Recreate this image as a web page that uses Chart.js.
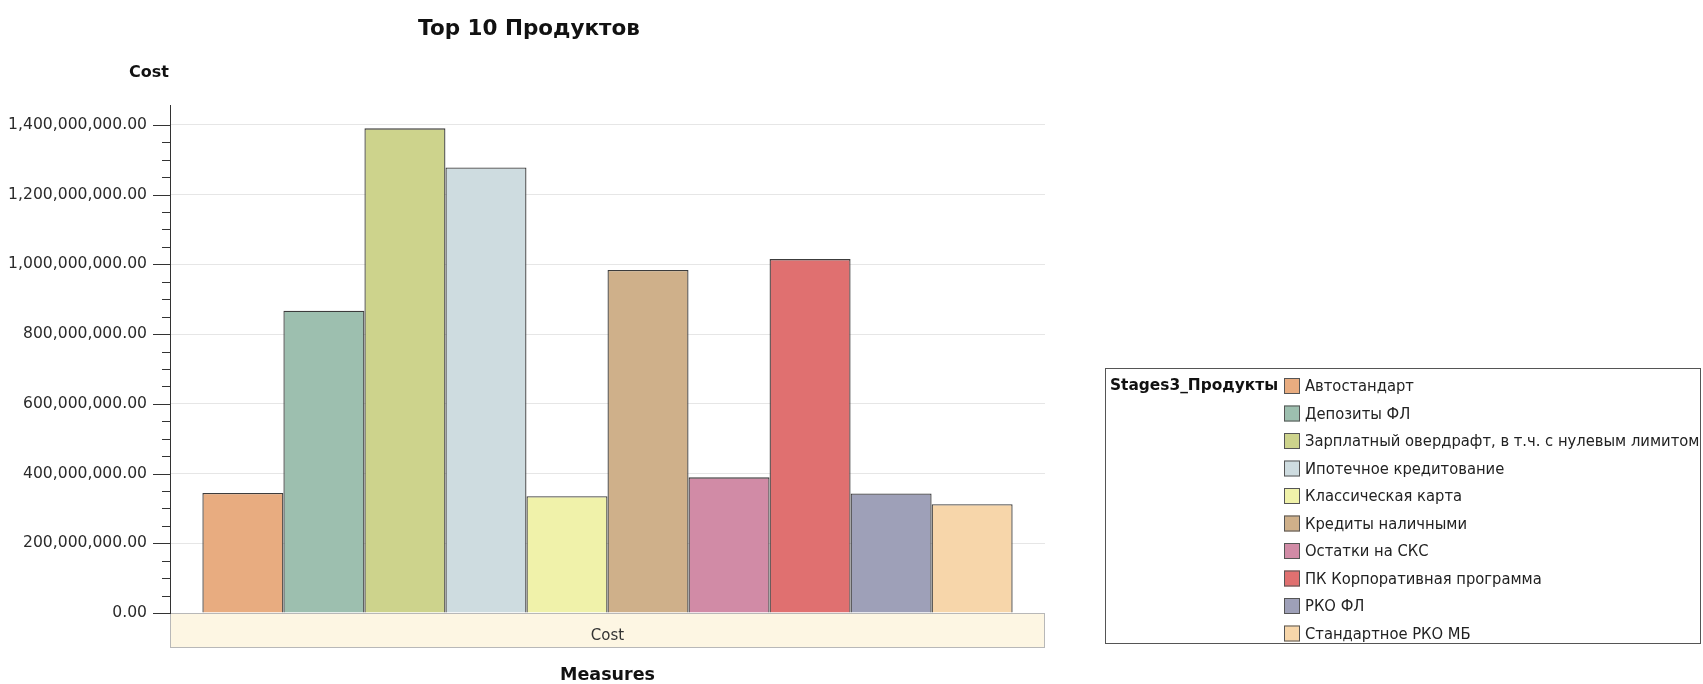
<!DOCTYPE html>
<html>
<head>
<meta charset="utf-8">
<script src="https://cdn.jsdelivr.net/npm/chart.js@4/dist/chart.umd.min.js"></script>
<style>
  html, body { margin: 0; padding: 0; background: #fff; }
  #wrap { width: 1703px; height: 684px; }
</style>
</head>
<body>
<div id="wrap"><canvas id="topProducts"></canvas></div>
<script>
// Data
const measures = ['Cost'];
const products = [
  'Автостандарт',
  'Депозиты ФЛ',
  'Зарплатный овердрафт, в т.ч. с нулевым лимитом',
  'Ипотечное кредитование',
  'Классическая карта',
  'Кредиты наличными',
  'Остатки на СКС',
  'ПК Корпоративная программа',
  'РКО ФЛ',
  'Стандартное РКО МБ'
];
const costValues = [344e6, 867e6, 1390e6, 1278e6, 335e6, 984e6, 389e6, 1015e6, 343e6, 312e6];
const productColors = ['#E8AC80', '#9DBFAF', '#CDD38C', '#CEDCE0', '#F0F2AA',
                       '#CFB08A', '#D18BA6', '#E07070', '#9EA0B8', '#F7D6AA'];
const majorStep = 200e6;
const minorStep = 50e6;
const axisTop = 1400e6;

const boldFont = '"DejaVu Sans", sans-serif';
const textFont = '"DejaVu Sans", sans-serif';
const legendFont = '"Liberation Sans Narrow", "DejaVu Sans Condensed", "Liberation Sans", sans-serif';

function fmt(v) {
  const parts = Math.round(v).toString().replace(/\B(?=(\d{3})+(?!\d))/g, ',');
  return parts + '.00';
}

// beige band under the plot, axis ticks, titles and the side legend
const decorations = {
  id: 'decorations',
  beforeDraw(chart) {
    const { ctx, chartArea } = chart;
    ctx.save();
    ctx.fillStyle = '#FDF6E3';
    ctx.strokeStyle = '#B8B8B8';
    ctx.lineWidth = 1;
    ctx.fillRect(chartArea.left, chartArea.bottom, chartArea.right - chartArea.left, 34);
    ctx.strokeRect(chartArea.left + 0.5, chartArea.bottom + 0.5, chartArea.right - chartArea.left - 1, 34);
    ctx.restore();
  },
  afterDraw(chart) {
    const { ctx, chartArea } = chart;
    const y = chart.scales.y;
    ctx.save();
    // tick marks
    ctx.strokeStyle = '#333';
    ctx.lineWidth = 1;
    y.ticks.forEach(t => {
      const py = Math.round(y.getPixelForValue(t.value)) + 0.5;
      const len = t.value % majorStep === 0 ? 17 : 8;
      ctx.beginPath();
      ctx.moveTo(chartArea.left - len, py);
      ctx.lineTo(chartArea.left, py);
      ctx.stroke();
    });
    // titles
    ctx.fillStyle = '#111';
    ctx.textAlign = 'center';
    ctx.textBaseline = 'middle';
    ctx.font = 'bold 21.5px ' + boldFont;
    ctx.fillText('Top 10 Продуктов', 529, 29);
    ctx.font = 'bold 16px ' + boldFont;
    ctx.fillText('Cost', 149, 73);

    // legend
    const lx = chartArea.right + 60, ly = 368, lw = 1701 - lx, lh = 276;
    ctx.fillStyle = '#fff';
    ctx.fillRect(lx, ly, lw, lh);
    ctx.strokeStyle = '#555';
    ctx.strokeRect(lx + 0.5, ly + 0.5, lw - 1, lh - 1);
    ctx.textAlign = 'left';
    ctx.fillStyle = '#111';
    ctx.font = 'bold 15.4px ' + boldFont;
    ctx.fillText('Stages3_Продукты', lx + 5, ly + 18);
    chart.data.datasets.forEach((ds, i) => {
      const ry = ly + 18 + i * 27.5;
      const sx = lx + 179;
      ctx.fillStyle = ds.backgroundColor;
      ctx.fillRect(sx, ry - 8, 16, 16);
      ctx.strokeStyle = '#555';
      ctx.strokeRect(sx + 0.5, ry - 7.5, 15, 15);
      ctx.fillStyle = '#222';
      ctx.font = '16.4px ' + legendFont;
      ctx.fillText(ds.label, sx + 21, ry + 1);
    });
    ctx.restore();
  }
};

const ctx = document.getElementById('topProducts').getContext('2d');
const chart = new Chart(ctx, {
  type: 'bar',
  data: {
    labels: measures,
    datasets: products.map((name, i) => ({
      label: name,
      data: [costValues[i]],
      backgroundColor: productColors[i],
      borderColor: '#3c3c3c',
      borderWidth: 1.3,
      barPercentage: 1.0,
      categoryPercentage: 0.926
    }))
  },
  options: {
    responsive: true,
    maintainAspectRatio: false,
    animation: false,
    layout: { padding: { top: 105, right: 658, left: 0, bottom: 0 } },
    plugins: {
      legend: { display: false },
      title: { display: false },
      tooltip: { enabled: false }
    },
    scales: {
      x: {
        grid: { display: false },
        border: { display: false },
        ticks: { color: '#333', padding: 6, font: { family: textFont, size: 15 } },
        title: {
          display: true,
          text: 'Measures',
          color: '#111',
          padding: { top: 0, bottom: 0 },
          font: { family: boldFont, size: 17.5, weight: 'bold', lineHeight: 1 }
        },
        afterFit(scale) { scale.height = 71; }
      },
      y: {
        min: 0,
        max: 1457e6,
        grid: {
          drawTicks: false,
          color: c => (c.tick && c.tick.value % majorStep === 0 && c.tick.value > 0) ? '#E6E6E6' : 'rgba(0,0,0,0)'
        },
        border: { display: true, color: '#333' },
        afterBuildTicks(scale) {
          const ticks = [];
          for (let v = 0; v <= axisTop; v += minorStep) ticks.push({ value: v });
          scale.ticks = ticks;
        },
        ticks: {
          autoSkip: false,
          padding: 23,
          color: '#2a2a2a',
          font: { family: textFont, size: 15.6 },
          callback: v => (v % majorStep === 0 ? fmt(v) : '')
        },
        afterFit(scale) { scale.width = 170; }
      }
    }
  },
  plugins: [decorations]
});
</script>
</body>
</html>
